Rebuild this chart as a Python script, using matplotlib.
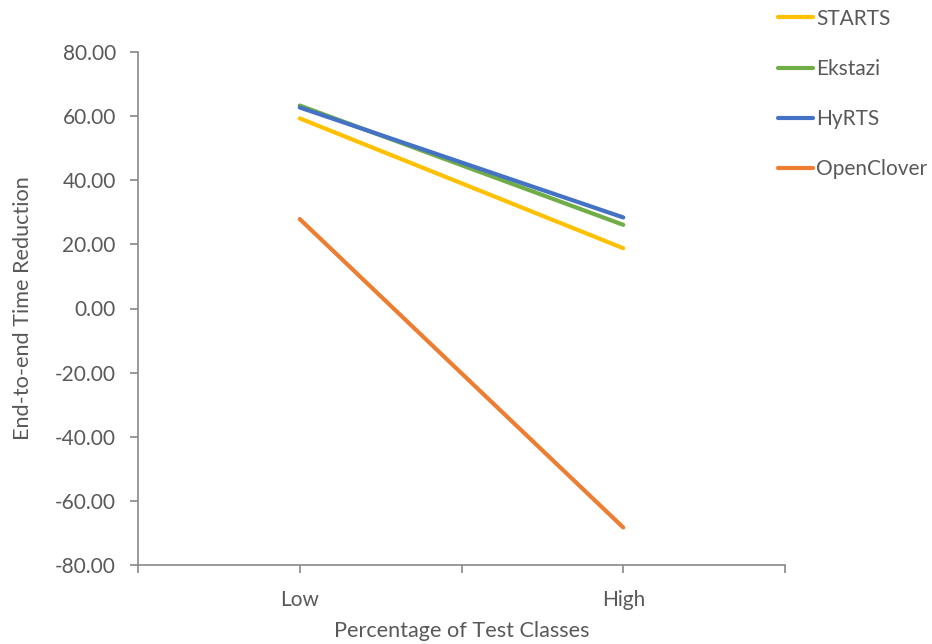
import matplotlib.pyplot as plt

plt.rcParams['font.family'] = ['Lato', 'DejaVu Sans']

categories = ['Low', 'High']
series_names = ['STARTS', 'Ekstazi', 'HyRTS', 'OpenClover']
starts = [59.3, 18.8]
ekstazi = [63.3, 26.1]
hyrts = [62.7, 28.4]
openclover = [27.9, -68.3]
colors = ['#FFC000', '#70AD47', '#4472C4', '#ED7D31']

text_color = '#595959'
axis_color = '#898989'

fig = plt.figure(figsize=(9.32, 6.44), dpi=100)
ax = fig.add_axes([138 / 932, 1 - 565 / 644, (785 - 138) / 932, (565 - 52) / 644])

x = [1, 2]
for name, vals, c in zip(series_names, [starts, ekstazi, hyrts, openclover], colors):
    ax.plot(x, vals, color=c, lw=3, label=name, solid_capstyle='round')

ax.set_xlim(0.5, 2.5)
ax.set_ylim(-80, 80)
ax.set_yticks(range(-80, 81, 20))
ax.set_yticklabels(['%.2f' % v for v in range(-80, 81, 20)])
ax.set_xticks([0.5, 1, 1.5, 2, 2.5])
ax.set_xticklabels(['', categories[0], '', categories[1], ''])

for side in ['top', 'right']:
    ax.spines[side].set_visible(False)
for side in ['left', 'bottom']:
    ax.spines[side].set_color(axis_color)
    ax.spines[side].set_linewidth(1.2)
ax.tick_params(axis='both', colors=axis_color, labelcolor=text_color, labelsize=15,
               length=6, width=1.2)
ax.tick_params(axis='y', pad=10)
ax.tick_params(axis='x', pad=12)

ax.set_xlabel('Percentage of Test Classes', fontsize=15.6, color=text_color, labelpad=8)
ax.set_ylabel('End-to-end Time Reduction', fontsize=15.6, color=text_color, labelpad=16)

fig.legend(loc='upper left', bbox_to_anchor=(759 / 932, 1 + 10 / 644), frameon=False,
           fontsize=15, labelcolor=text_color, handlelength=1.7, handletextpad=0.15,
           labelspacing=1.45)

fig.savefig('out.png', dpi=100)
